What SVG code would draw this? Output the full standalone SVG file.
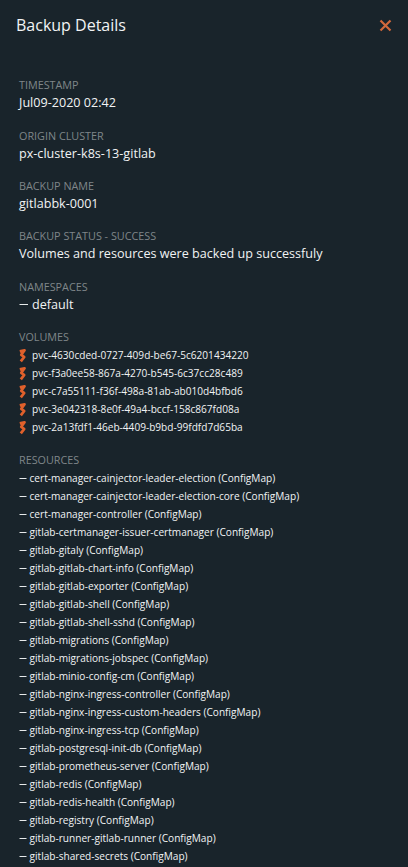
<svg xmlns="http://www.w3.org/2000/svg" width="408" height="867" viewBox="0 0 408 867">
<style>
text{font-family:"Open Sans","Noto Sans",sans-serif;fill:#f1f3f4}
.t{font-size:16px;font-weight:500}
.l{font-size:10.8px;fill:#7f8689}
.v{font-size:12.6px}
.s{font-size:10.1px}
.d{stroke:#e6e9ea;stroke-width:1;fill:none}
.o{stroke:#e0602b;stroke-width:2.8;fill:none;stroke-linejoin:round}
</style>
<defs>
<path id="pw" class="o" d="M0.800 2.300L5.500 1.300L2.300 5.800L5.200 8L1.800 12.300"/>
</defs>
<rect width="408" height="867" fill="#19242b"/>
<g id="header">
<text class="t" x="16" y="31">Backup Details</text>
<path d="M380.500 20.500L390.500 30.500M390.500 20.500L380.500 30.500" stroke="#d2693c" stroke-width="2.200" fill="none"/>
</g>
<g id="timestamp"><text class="l" x="19" y="89">TIMESTAMP</text><text class="v" x="19" y="107">Jul09-2020 02:42</text></g>
<g id="origin"><text class="l" x="19" y="140">ORIGIN CLUSTER</text><text class="v" x="19" y="158">px-cluster-k8s-13-gitlab</text></g>
<g id="name"><text class="l" x="19" y="190">BACKUP NAME</text><text class="v" x="19" y="208">gitlabbk-0001</text></g>
<g id="status"><text class="l" x="19" y="240">BACKUP STATUS - SUCCESS</text><text class="v" x="19" y="258">Volumes and resources were backed up successfuly</text></g>
<g id="namespaces"><text class="l" x="19" y="291">NAMESPACES</text><path class="d" d="M19.500 304.500H28"/><text class="v" x="32" y="309">default</text></g>
<g id="volumes">
<text class="l" x="19" y="341">VOLUMES</text>
<use href="#pw" x="19" y="349"/><text class="s" x="32" y="359">pvc-4630cded-0727-409d-be67-5c6201434220</text>
<use href="#pw" x="19" y="367"/><text class="s" x="32" y="377">pvc-f3a0ee58-867a-4270-b545-6c37cc28c489</text>
<use href="#pw" x="19" y="385"/><text class="s" x="32" y="395">pvc-c7a55111-f36f-498a-81ab-ab010d4bfbd6</text>
<use href="#pw" x="19" y="403"/><text class="s" x="32" y="413">pvc-3e042318-8e0f-49a4-bccf-158c867fd08a</text>
<use href="#pw" x="19" y="421"/><text class="s" x="32" y="431">pvc-2a13fdf1-46eb-4409-b9bd-99fdfd7d65ba</text>
</g>
<g id="resources">
<text class="l" x="19" y="464">RESOURCES</text>
<path class="d" d="M19.500 478.500H26.500M19.500 496.500H26.500M19.500 514.500H26.500M19.500 532.500H26.500M19.500 550.500H26.500M19.500 568.500H26.500M19.500 586.500H26.500M19.500 604.500H26.500M19.500 622.500H26.500M19.500 640.500H26.500M19.500 658.500H26.500M19.500 676.500H26.500M19.500 694.500H26.500M19.500 712.500H26.500M19.500 730.500H26.500M19.500 748.500H26.500M19.500 766.500H26.500M19.500 784.500H26.500M19.500 802.500H26.500M19.500 820.500H26.500M19.500 838.500H26.500M19.500 856.500H26.500"/>
<text class="s" x="29.500" y="482">cert-manager-cainjector-leader-election (ConfigMap)</text>
<text class="s" x="29.500" y="500">cert-manager-cainjector-leader-election-core (ConfigMap)</text>
<text class="s" x="29.500" y="518">cert-manager-controller (ConfigMap)</text>
<text class="s" x="29.500" y="536">gitlab-certmanager-issuer-certmanager (ConfigMap)</text>
<text class="s" x="29.500" y="554">gitlab-gitaly (ConfigMap)</text>
<text class="s" x="29.500" y="572">gitlab-gitlab-chart-info (ConfigMap)</text>
<text class="s" x="29.500" y="590">gitlab-gitlab-exporter (ConfigMap)</text>
<text class="s" x="29.500" y="608">gitlab-gitlab-shell (ConfigMap)</text>
<text class="s" x="29.500" y="626">gitlab-gitlab-shell-sshd (ConfigMap)</text>
<text class="s" x="29.500" y="644">gitlab-migrations (ConfigMap)</text>
<text class="s" x="29.500" y="662">gitlab-migrations-jobspec (ConfigMap)</text>
<text class="s" x="29.500" y="680">gitlab-minio-config-cm (ConfigMap)</text>
<text class="s" x="29.500" y="698">gitlab-nginx-ingress-controller (ConfigMap)</text>
<text class="s" x="29.500" y="716">gitlab-nginx-ingress-custom-headers (ConfigMap)</text>
<text class="s" x="29.500" y="734">gitlab-nginx-ingress-tcp (ConfigMap)</text>
<text class="s" x="29.500" y="752">gitlab-postgresql-init-db (ConfigMap)</text>
<text class="s" x="29.500" y="770">gitlab-prometheus-server (ConfigMap)</text>
<text class="s" x="29.500" y="788">gitlab-redis (ConfigMap)</text>
<text class="s" x="29.500" y="806">gitlab-redis-health (ConfigMap)</text>
<text class="s" x="29.500" y="824">gitlab-registry (ConfigMap)</text>
<text class="s" x="29.500" y="842">gitlab-runner-gitlab-runner (ConfigMap)</text>
<text class="s" x="29.500" y="860">gitlab-shared-secrets (ConfigMap)</text>
</g>
</svg>
